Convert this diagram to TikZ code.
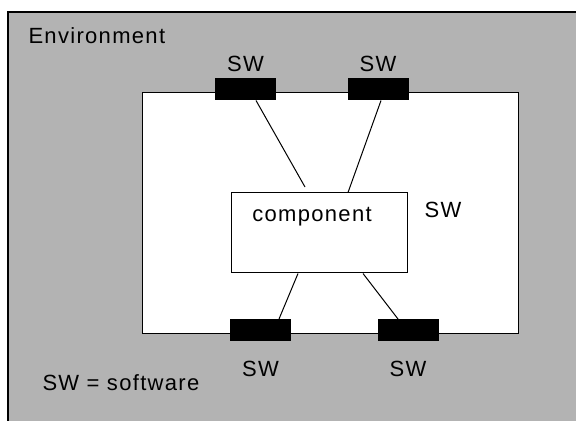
\documentclass[tikz,border=0pt]{standalone}
\usepackage{fontspec}
\setmainfont{Liberation Sans}[LetterSpace=6.0]
\usetikzlibrary{positioning}
\definecolor{envgray}{RGB}{179,179,179}

\begin{document}
\begin{tikzpicture}[x=0.5pt, y=-0.5pt,
        font=\fontsize{11}{13}\selectfont,
        line width=0.5pt,
        sw/.style = {draw, fill=black, minimum width=30pt, minimum height=10.5pt, inner sep=0pt},
        box/.style = {draw, fill=white, inner sep=0pt},
        txt/.style = {inner sep=0pt},
        ]
        \useasboundingbox (0,0) rectangle (576,421);
        % environment
        \fill[envgray] (8,12) rectangle (576,421);
        \draw[line width=0.7pt] (8,421) -- (8,12) -- (576,12);
        \node[txt, anchor=base west](env) at (28,44) {Environment};
        \node[txt, anchor=base west](key) at (42,390) {SW = software};
        % software
        \node[box, minimum width=188pt, minimum height=120pt](sys) at (330,213) {};
        \node[txt](syslbl) at (443,210) {SW};
        \node[box, minimum width=88pt, minimum height=40pt](comp) at (319,233) {};
        \node[txt](complbl) at (312,217) {component};
        % interfaces
        \node[sw](swa) at (245.5,89.5) [label=above:SW] {};
        \node[sw](swb) at (378,89.5) [label=above:SW] {};
        \node[sw](swc) at (260.5,330) [label={[label distance=6.5pt]below:SW}] {};
        \node[sw](swd) at (408,330) [label={[label distance=6.5pt]below:SW}] {};
        \coordinate (ca) at (305,187);
        \draw ([xshift=5.25pt]swa.south) -- (ca);
        \draw ([xshift=1.5pt]swb.south) -- ([xshift=14.5pt]comp.north);
        \draw ([xshift=-10.5pt]comp.south) -- ([xshift=9.25pt]swc.north);
        \draw ([xshift=22pt]comp.south) -- ([xshift=-5pt]swd.north);
\end{tikzpicture}
\end{document}
